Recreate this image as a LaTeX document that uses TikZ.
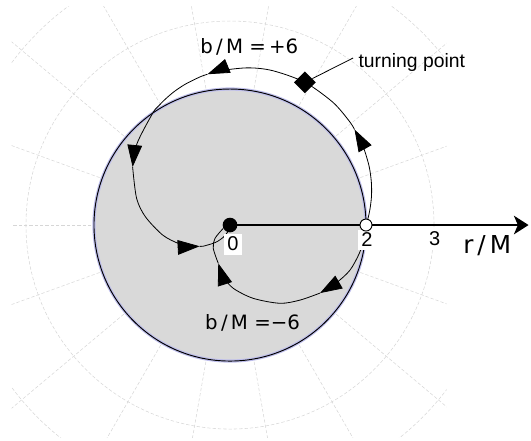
\documentclass[tikz,border=0pt]{standalone}
\usepackage{fontspec}
\setmainfont{Liberation Sans}
\newfontfamily\dvsans{DejaVu Sans}
\usepackage{tikz}
\usetikzlibrary{arrows.meta,shapes.geometric}
\definecolor{halo}{RGB}{190,190,235}
\tikzset{
  grd/.style={black!16,line width=0.4pt,dash pattern=on 2.5pt off 1.5pt},
  traj/.style={line width=0.6pt},
  arr/.style={-{Triangle[length=16.5pt,width=11pt]}},
  axs/.style={line width=1.1pt,-{Stealth[length=11pt,width=14pt,inset=3pt]}},
  lbl/.style={fill=white,inner sep=2.6pt,font=\fontsize{15}{15}\selectfont},
  bml/.style={anchor=base west,inner sep=0pt,font=\dvsans\fontsize{14.8}{15}\selectfont},
  rml/.style={anchor=base west,inner sep=0pt,font=\dvsans\fontsize{18.5}{19}\selectfont},
  tpl/.style={anchor=base west,inner sep=0pt,font=\fontsize{14.5}{15}\selectfont},
  dot/.style={circle,fill=black,inner sep=0pt,minimum size=11pt},
  odot/.style={circle,draw=black,line width=0.7pt,fill=white,inner sep=0pt,minimum size=9pt},
  tpt/.style={diamond,fill=black,inner sep=0pt,minimum size=16.5pt},
}
\begin{document}
\begin{tikzpicture}[x=51pt,y=51pt]
 \useasboundingbox (-3.382,-3.162) rectangle (4.426,3.309);
 \begin{scope}
  \clip (-3.21,-3.118) rectangle (3.187,3.21);
  \foreach \a in {0,20,...,340}{\draw[grd] (0,0) -- (\a:5);}
  \foreach \r in {1,...,4}{\draw[grd] (0,0) circle (\r);}
 \end{scope}
 \fill[black!15] (0,0) circle (2);
 \draw[halo,line width=2.4pt] (0,0) circle (2);
 \draw[line width=0.7pt] (0,0) circle (2);
 \coordinate (o) at (0,0);
 \coordinate (axend) at (4.39,0);
 \draw[axs] (o) -- (axend);
 \draw[traj,arr] plot[smooth] coordinates {(0:2) (3.6:2.041) (7.6:2.083) (12:2.128) (17.1:2.174) (23.1:2.222) (30.6:2.273) (37.5:2.308)};
 \draw[traj,arr] plot[smooth] coordinates {(37.5:2.308) (41:2.326) (50:2.355) (62.3:2.37) (74.6:2.355) (83.6:2.326) (94:2.273) (98.5:2.242)};
 \draw[traj,arr] plot[smooth] coordinates {(98.5:2.242) (101.5:2.222) (107.5:2.174) (112.6:2.128) (117:2.083) (121:2.041) (124.6:2) (138.8:1.818) (149.2:1.667)};
 \draw[traj,arr] plot[smooth] coordinates {(149.2:1.667) (164:1.429) (174.4:1.25) (188.5:1) (200:0.8) (207.9:0.667) (215:0.544)};
 \draw[traj] plot[smooth] coordinates {(215:0.544) (218.4:0.5) (230.2:0.333) (241.6:0.2) (252.6:0.1)};
 \draw[traj,arr] plot[smooth] coordinates {(0:2) (-6:1.98) (-12.3:1.947) (-20.6:1.885) (-28.5:1.78) (-37.1:1.659)};
 \draw[traj,arr] plot[smooth] coordinates {(-37.1:1.659) (-47:1.509) (-57.4:1.366) (-72.4:1.131) (-87:0.932) (-97:0.77) (-107:0.589)};
 \draw[traj] plot[smooth] coordinates {(-107:0.589) (-125.6:0.422) (-138.4:0.295) (-153.8:0.11)};
 \node[lbl] (l0) at (0.044,-0.28) {0};
 \node[lbl] (l2) at (2.015,-0.22) {2};
 \node[lbl] (l3) at (3.01,-0.206) {3};
 \node[dot] (ctr) at (o) {};
 \node[odot] (hor) at (0:2) {};
 \node[bml] (bp) at (-0.441,2.526) {b\,/\,M =\,+6};
 \node[bml] (bm) at (-0.368,-1.53) {b\,/\,M =−6};
 \node[rml] (rm) at (3.426,-0.412) {r\,/\,M};
 \node[tpl] (tpl) at (1.887,2.319) {turning point};
 \coordinate (tpend) at (1.81,2.456);
 \node[tpt] (turn) at (62.3:2.37) {};
 \draw[line width=0.6pt] (turn) -- (tpend);
\end{tikzpicture}
\end{document}
